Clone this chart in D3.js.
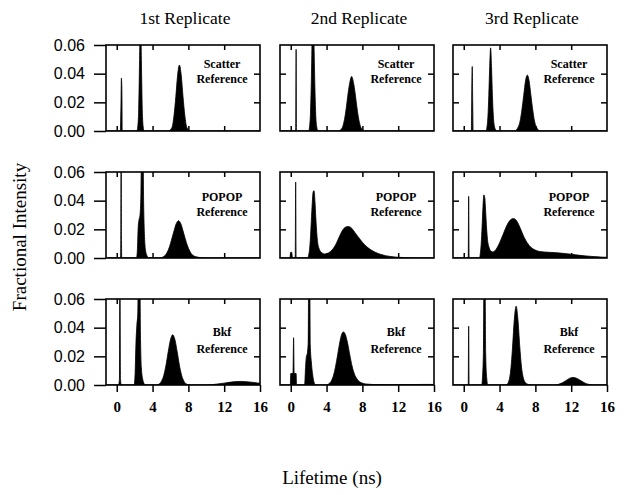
<!DOCTYPE html>
<html>
<head>
<meta charset="utf-8">
<script src="https://cdn.jsdelivr.net/npm/d3@7"></script>
<style>
  body { margin: 0; background: #fff; }
  svg { display: block; }
</style>
</head>
<body>
<svg id="chart" width="626" height="495"></svg>
<script>
// Column and row headings
const replicates = ["1st Replicate", "2nd Replicate", "3rd Replicate"];
const references = ["Scatter", "POPOP", "Bkf"];

// Axis ticks
const xTicks = [0, 4, 8, 12, 16];
const yTicks = [0, 0.02, 0.04, 0.06];

// Lifetime distributions: [lifetime (ns), fractional intensity]
const scatter1 = [[-1.2,0],[0.4,0],[0.47,0.018],[0.52,0.037],[0.57,0.03],[0.62,0],
  [2.25,0],[2.35,0.003],[2.45,0.015],[2.55,0.05],[2.65,0.09],[2.75,0.05],[2.85,0.015],[2.95,0.003],[3.05,0],
  [5.8,0],[6.0,0.001],[6.2,0.003],[6.4,0.011],[6.6,0.024],[6.8,0.039],[7.0,0.046],[7.2,0.039],[7.4,0.024],
  [7.6,0.011],[7.8,0.003],[8.0,0.001],[8.2,0],[16,0]];
const scatter2 = [[-1.2,0],[0.55,0],[0.6,0.057],[0.65,0],
  [2.0,0],[2.1,0.003],[2.2,0.012],[2.3,0.035],[2.4,0.07],[2.5,0.09],[2.6,0.06],[2.7,0.03],[2.8,0.01],[2.9,0.003],[3.05,0],
  [5.4,0],[5.6,0.001],[5.8,0.003],[6.0,0.008],[6.2,0.016],[6.4,0.026],[6.6,0.034],[6.8,0.038],[7.0,0.034],
  [7.2,0.026],[7.4,0.016],[7.6,0.008],[7.8,0.003],[8.0,0.001],[8.2,0],[16,0]];
const scatter3 = [[-1.2,0],[0.85,0],[0.9,0.03],[0.95,0.045],[1.0,0.02],[1.05,0],
  [2.5,0],[2.6,0.003],[2.7,0.01],[2.8,0.025],[2.9,0.045],[3.0,0.058],[3.1,0.045],[3.2,0.025],[3.3,0.011],
  [3.4,0.004],[3.55,0.001],[3.7,0],
  [5.7,0],[5.9,0.001],[6.1,0.003],[6.3,0.007],[6.5,0.015],[6.7,0.025],[6.9,0.035],[7.1,0.039],[7.3,0.035],
  [7.5,0.025],[7.7,0.015],[7.9,0.007],[8.1,0.003],[8.3,0.001],[8.5,0],[16,0]];

const popop1 = [[-1.2,0],[0.42,0],[0.45,0.012],[0.49,0.09],[0.53,0.012],[0.56,0],
  [2.2,0],[2.3,0.005],[2.4,0.022],[2.5,0.027],[2.6,0.03],[2.7,0.045],[2.8,0.1],[2.9,0.1],[3.0,0.04],
  [3.1,0.015],[3.2,0.006],[3.35,0.002],[3.5,0.0005],[3.7,0],
  [4.9,0],[5.15,0.0007],[5.4,0.0018],[5.65,0.0041],[5.9,0.008],[6.15,0.0134],[6.4,0.019],[6.65,0.024],
  [6.9,0.026],[7.15,0.024],[7.4,0.019],[7.65,0.0134],[7.9,0.0085],[8.15,0.0048],[8.4,0.0024],[8.9,0.0008],
  [9.5,0.0002],[10,0],[16,0]];
const popop2 = [[-1.2,0],[-0.1,0],[0.0,0.004],[0.1,0.004],[0.2,0],[0.5,0],[0.55,0.053],[0.6,0],
  [1.9,0],[2.0,0.002],[2.1,0.006],[2.2,0.014],[2.3,0.026],[2.4,0.038],[2.5,0.046],[2.6,0.047],[2.7,0.04],
  [2.8,0.028],[2.9,0.018],[3.0,0.011],[3.2,0.006],[3.4,0.004],[3.6,0.0032],[3.8,0.0028],
  [4.2,0.0035],[4.6,0.0055],[5.0,0.009],[5.4,0.0145],[5.8,0.0195],[6.1,0.0215],[6.45,0.022],[6.8,0.0208],
  [7.2,0.0175],[7.6,0.0142],[8.0,0.011],[8.5,0.0078],[9.0,0.0055],[9.5,0.0038],[10.0,0.0026],[10.6,0.0016],
  [11.2,0.001],[12.0,0.0005],[13.0,0.0002],[14.0,0],[16,0]];
const popop3 = [[-1.2,0],[0.5,0],[0.55,0.043],[0.6,0],
  [1.75,0],[1.85,0.003],[1.95,0.01],[2.05,0.022],[2.15,0.036],[2.25,0.044],[2.35,0.042],[2.45,0.032],
  [2.55,0.021],[2.65,0.013],[2.8,0.008],[3.0,0.005],[3.25,0.0042],
  [3.6,0.006],[4.0,0.0105],[4.4,0.0165],[4.8,0.0225],[5.2,0.0265],[5.55,0.0275],[5.9,0.026],[6.3,0.021],
  [6.7,0.015],[7.1,0.0105],[7.5,0.0075],[8.0,0.0055],[8.5,0.0045],[9.5,0.004],[10.5,0.0036],[11.5,0.003],
  [12.5,0.0022],[13.5,0.0015],[14.5,0.001],[15.5,0.0006],[16,0.0005]];

const bkf1 = [[-1.2,0],[0.2,0],[0.3,0.004],[0.35,0.09],[0.42,0.004],[0.5,0],
  [1.95,0],[2.05,0.008],[2.15,0.03],[2.25,0.042],[2.35,0.05],[2.45,0.1],[2.55,0.1],[2.65,0.035],
  [2.75,0.012],[2.9,0.004],[3.05,0.001],[3.2,0],
  [4.5,0],[4.75,0.0008],[5.0,0.0027],[5.25,0.0067],[5.5,0.0138],[5.75,0.0232],[6.0,0.0316],[6.25,0.035],
  [6.5,0.0316],[6.75,0.0232],[7.0,0.0138],[7.25,0.0067],[7.5,0.0027],[7.75,0.0008],[8.0,0.0002],[8.3,0],
  [10,0],[11,0.0005],[12,0.0013],[13,0.0022],[13.9,0.0025],[15,0.002],[16,0.0012]];
const bkf2 = [[-1.2,0],[-0.05,0],[0.0,0.008],[0.25,0.008],[0.32,0.033],[0.38,0.008],[0.6,0.008],[0.65,0],
  [1.55,0],[1.65,0.012],[1.75,0.02],[1.85,0.022],[1.95,0.03],[2.02,0.1],[2.1,0.1],[2.18,0.028],
  [2.3,0.016],[2.45,0.007],[2.6,0.002],[2.8,0],
  [4.0,0],[4.25,0.0008],[4.5,0.0025],[4.75,0.0062],[5.0,0.0128],[5.25,0.0215],[5.5,0.0305],[5.75,0.0362],
  [5.9,0.037],[6.1,0.0352],[6.35,0.0292],[6.6,0.0208],[6.85,0.0132],[7.1,0.0078],[7.4,0.0042],[7.7,0.0022],
  [8.1,0.0011],[8.6,0.0006],[9.5,0.0003],[11,0.0002],[13,0.0003],[15,0.0004],[16,0.0004]];
const bkf3 = [[-1.2,0],[0.5,0],[0.55,0.041],[0.6,0],
  [2.0,0],[2.1,0.006],[2.2,0.025],[2.27,0.1],[2.35,0.1],[2.45,0.022],[2.55,0.006],[2.7,0],
  [4.65,0],[4.85,0.0006],[5.05,0.003],[5.25,0.0105],[5.45,0.0264],[5.65,0.0458],[5.85,0.055],[6.05,0.0458],
  [6.25,0.0275],[6.45,0.0125],[6.65,0.005],[6.85,0.002],[7.1,0.0007],[7.4,0.0002],[7.8,0],
  [10.2,0],[10.6,0.0005],[11.0,0.0015],[11.4,0.003],[11.8,0.0046],[12.2,0.0053],[12.6,0.0047],[13.0,0.0033],
  [13.4,0.0018],[13.8,0.0007],[14.2,0.0002],[14.6,0],[16,0]];

const panels = [
  [scatter1, scatter2, scatter3],
  [popop1, popop2, popop3],
  [bkf1, bkf2, bkf3]
];

// ---- layout ----
const colX = [106, 280, 453];
const rowY = [45, 172, 299];
const pw = 154, ph = 86;
const labelDy = [[23, 38], [29, 44], [37, 54]];   // baselines of the two-line panel captions
const serif = "'Liberation Serif', 'Times New Roman', serif";
const sans = "'Liberation Sans', Arial, sans-serif";

const svg = d3.select("#chart");
const defs = svg.append("defs");

function styleAxis(g) {
  g.select(".domain").remove();
  g.selectAll(".tick line").attr("stroke", "#000").attr("stroke-width", 1.5);
}

panels.forEach((row, r) => {
  row.forEach((data, c) => {
    const x0 = colX[c], y0 = rowY[r];
    const x = d3.scaleLinear().domain([-1.2, 16]).range([x0, x0 + pw]);
    const y = d3.scaleLinear().domain([0, 0.06]).range([y0 + ph, y0]);
    const id = `clip-${r}-${c}`;
    defs.append("clipPath").attr("id", id)
      .append("rect").attr("x", x0).attr("y", y0).attr("width", pw).attr("height", ph);

    const g = svg.append("g");

    const area = d3.area()
      .x(d => x(d[0]))
      .y0(y(0))
      .y1(d => y(d[1]))
      .curve(d3.curveMonotoneX);

    g.append("path")
      .datum(data)
      .attr("clip-path", `url(#${id})`)
      .attr("fill", "#000")
      .attr("stroke", "#000")
      .attr("stroke-width", 0.8)
      .attr("d", area);

    // left axis
    if (c === 0) {
      g.append("g").attr("transform", `translate(${x0},0)`)
        .call(d3.axisLeft(y).tickValues(yTicks).tickSize(12).tickPadding(9).tickFormat(d3.format(".2f")))
        .call(styleAxis)
        .call(a => a.selectAll("text").attr("font-family", sans).attr("font-size", 16).attr("fill", "#000"));
    } else {
      g.append("g").attr("transform", `translate(${x0},0)`)
        .call(d3.axisLeft(y).tickValues([0.02, 0.04]).tickSize(-6).tickFormat(""))
        .call(styleAxis);
    }
    // right axis, inward
    g.append("g").attr("transform", `translate(${x0 + pw},0)`)
      .call(d3.axisRight(y).tickValues([0.02, 0.04]).tickSize(-6).tickFormat(""))
      .call(styleAxis);
    // top axis, inward
    g.append("g").attr("transform", `translate(0,${y0})`)
      .call(d3.axisTop(x).tickValues(xTicks.slice(0, 4)).tickSize(-5).tickFormat(""))
      .call(styleAxis);
    // bottom axis
    if (r === 2) {
      g.append("g").attr("transform", `translate(0,${y0 + ph})`)
        .call(d3.axisBottom(x).tickValues(xTicks).tickSize(7).tickPadding(9).tickFormat(d3.format("d")))
        .call(styleAxis)
        .call(a => a.selectAll("text").attr("font-family", serif).attr("font-weight", "bold")
          .attr("font-size", 15).attr("fill", "#000"));
    } else {
      g.append("g").attr("transform", `translate(0,${y0 + ph})`)
        .call(d3.axisBottom(x).tickValues(xTicks.slice(0, 4)).tickSize(-5).tickFormat(""))
        .call(styleAxis);
    }

    // frame
    g.append("rect")
      .attr("x", x0).attr("y", y0).attr("width", pw).attr("height", ph)
      .attr("fill", "none").attr("stroke", "#000").attr("stroke-width", 1.6);

    // caption
    const cap = g.append("text")
      .attr("font-family", serif).attr("font-weight", "bold").attr("font-size", 12)
      .attr("text-anchor", "middle").attr("fill", "#000");
    cap.append("tspan").attr("x", x0 + 116).attr("y", y0 + labelDy[r][0]).text(references[r]);
    cap.append("tspan").attr("x", x0 + 116).attr("y", y0 + labelDy[r][1]).text("Reference");
  });
});

// column titles
replicates.forEach((t, c) => {
  svg.append("text")
    .attr("x", colX[c] + pw / 2 + 2).attr("y", 24)
    .attr("text-anchor", "middle")
    .attr("font-family", serif).attr("font-size", 17.5).attr("fill", "#000")
    .text(t);
});

// axis titles
svg.append("text")
  .attr("x", 332).attr("y", 484)
  .attr("text-anchor", "middle")
  .attr("font-family", serif).attr("font-size", 19).attr("fill", "#000")
  .text("Lifetime (ns)");

svg.append("text")
  .attr("transform", "translate(26,237) rotate(-90)")
  .attr("text-anchor", "middle")
  .attr("font-family", serif).attr("font-size", 19).attr("fill", "#000")
  .text("Fractional Intensity");
</script>
</body>
</html>
